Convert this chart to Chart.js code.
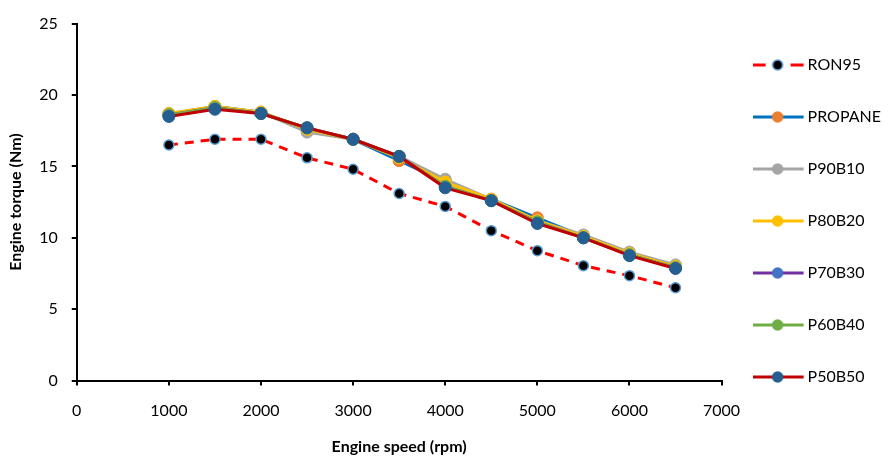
<!DOCTYPE html>
<html>
<head>
<meta charset="utf-8">
<script src="https://cdn.jsdelivr.net/npm/chart.js@4.4.1/dist/chart.umd.min.js"></script>
<style>
  body { margin: 0; background: #fff; }
  #wrap { width: 896px; height: 456px; }
</style>
</head>
<body>
<div id="wrap"><canvas id="myChart"></canvas></div>
<script>
const speeds = [1000, 1500, 2000, 2500, 3000, 3500, 4000, 4500, 5000, 5500, 6000, 6500];

const ron95   = [16.5, 16.9, 16.9, 15.6, 14.8, 13.1, 12.2, 10.5, 9.1, 8.05, 7.35, 6.5];
const propane = [18.6, 19.2, 18.8, 17.6, 16.9, 15.4, 13.9, 12.7, 11.4, 10.1, 8.9, 8.0];
const p90b10  = [18.7, 19.2, 18.8, 17.4, 16.9, 15.7, 14.1, 12.7, 11.2, 10.2, 9.0, 8.1];
const p80b20  = [18.7, 19.2, 18.8, 17.6, 16.9, 15.6, 13.9, 12.7, 11.2, 10.1, 8.9, 8.0];
const p70b30  = [18.6, 19.1, 18.7, 17.7, 16.9, 15.7, 13.6, 12.6, 11.1, 10.0, 8.8, 7.9];
const p60b40  = [18.6, 19.1, 18.7, 17.7, 16.9, 15.7, 13.6, 12.6, 11.1, 10.0, 8.8, 7.9];
const p50b50  = [18.5, 19.0, 18.7, 17.7, 16.9, 15.7, 13.5, 12.6, 11.0, 10.0, 8.75, 7.85];

const font = 'Lato, "Open Sans", sans-serif';

function pts(values) {
  return speeds.map((s, i) => ({x: s, y: values[i]}));
}

// legend swatch: line with a marker in the middle
function swatch(line, fill, border, dashed) {
  const c = document.createElement('canvas');
  c.width = 52; c.height = 14;
  const g = c.getContext('2d');
  g.strokeStyle = line;
  g.lineWidth = 3;
  if (dashed) {
    g.beginPath(); g.moveTo(0, 7); g.lineTo(13, 7); g.stroke();
    g.beginPath(); g.moveTo(38, 7); g.lineTo(51, 7); g.stroke();
  } else {
    g.beginPath(); g.moveTo(0, 7); g.lineTo(51, 7); g.stroke();
  }
  g.beginPath();
  g.arc(25, 7, 5, 0, Math.PI * 2);
  g.fillStyle = fill; g.fill();
  g.lineWidth = 1.5; g.strokeStyle = border; g.stroke();
  return c;
}

function series(label, values, line, fill, border, order, dashed) {
  return {
    label: label,
    data: pts(values),
    borderColor: line,
    borderWidth: 3,
    borderDash: dashed ? [9, 7] : [],
    pointRadius: dashed ? 5 : 6,
    pointBackgroundColor: fill,
    pointBorderColor: border,
    pointBorderWidth: dashed ? 1.5 : 1,
    order: order,
    swatch: swatch(line, fill, border, dashed)
  };
}

const datasets = [
  series('RON95', ron95, '#FF0000', '#000000', '#5B9BD5', 6, true),
  series('PROPANE', propane, '#0070C0', '#ED7D31', '#ED7D31', 5),
  series('P90B10', p90b10, '#A5A5A5', '#A5A5A5', '#A5A5A5', 4),
  series('P80B20', p80b20, '#FFC000', '#FFC000', '#FFC000', 3),
  series('P70B30', p70b30, '#7030A0', '#4472C4', '#4472C4', 2),
  series('P60B40', p60b40, '#70AD47', '#70AD47', '#70AD47', 1),
  series('P50B50', p50b50, '#C00000', '#255E91', '#255E91', 0)
];

const ctx = document.getElementById('myChart');

new Chart(ctx, {
  type: 'line',
  data: { datasets: datasets },
  options: {
    responsive: true,
    maintainAspectRatio: false,
    animation: false,
    layout: { padding: { top: 21, right: 5, left: 6, bottom: 0 } },
    plugins: {
      tooltip: { enabled: false },
      legend: {
        position: 'right',
        align: 'start',
        labels: {
          usePointStyle: true,
          pointStyleWidth: 42,
          padding: 36,
          color: '#000',
          font: { family: font, size: 16 },
          generateLabels: (chart) => chart.data.datasets.map((d, i) => ({
            text: d.label,
            pointStyle: d.swatch,
            datasetIndex: i,
            fontColor: '#000',
            lineWidth: 0,
            strokeStyle: 'transparent',
            fillStyle: 'transparent'
          }))
        }
      }
    },
    scales: {
      x: {
        type: 'linear',
        min: 0,
        max: 7000,
        ticks: { stepSize: 1000, color: '#000', font: { family: font, size: 16 }, padding: 16, callback: (v) => String(v) },
        grid: { drawOnChartArea: false, color: '#000', tickLength: 5, lineWidth: 2 },
        border: { color: '#000', width: 2 },
        title: { display: true, text: 'Engine speed (rpm)', color: '#000', font: { family: font, size: 16, weight: 'bold' }, padding: { top: 0, bottom: 0 } }
      },
      y: {
        min: 0,
        max: 25,
        ticks: { stepSize: 5, color: '#000', font: { family: font, size: 16 }, padding: 14, callback: (v) => String(v) },
        grid: { drawOnChartArea: false, color: '#000', tickLength: 5, lineWidth: 2 },
        border: { color: '#000', width: 2 },
        title: { display: true, text: 'Engine torque (Nm)', color: '#000', font: { family: font, size: 16, weight: 'bold' }, padding: { top: 0, bottom: 0 } }
      }
    }
  }
});
</script>
</body>
</html>
